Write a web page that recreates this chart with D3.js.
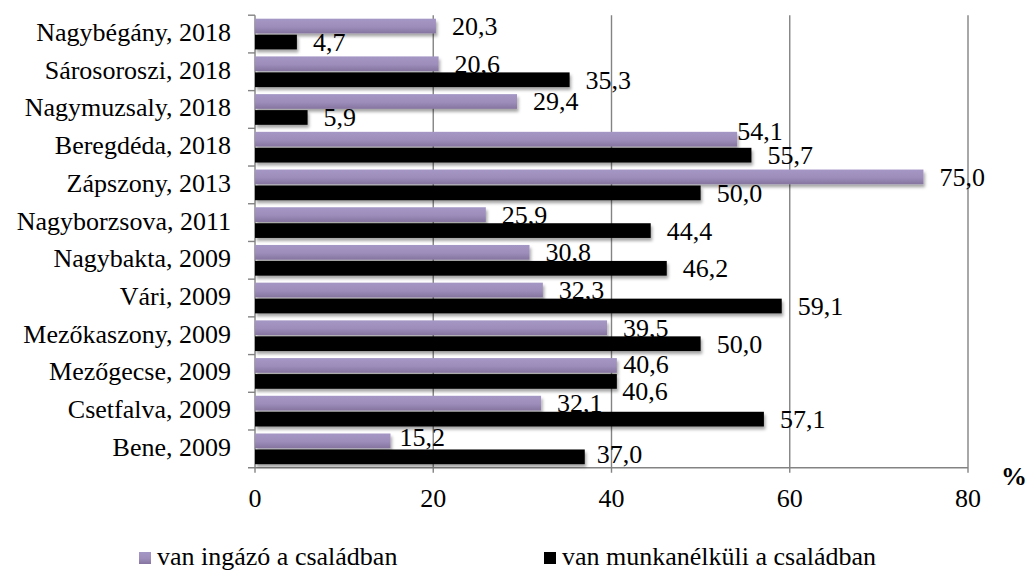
<!DOCTYPE html>
<html><head><meta charset="utf-8">
<script src="https://cdn.jsdelivr.net/npm/d3@7"></script>
<style>
body{margin:0;background:#fff}
svg{display:block}
text{font-family:"Liberation Serif","Times New Roman",serif;fill:#000}
</style>
</head><body>
<svg id="chart" width="1030" height="572"></svg>
<script>
// ---- data ----
const categories = ["Nagybégány, 2018","Sárosoroszi, 2018","Nagymuzsaly, 2018","Beregdéda, 2018","Zápszony, 2013","Nagyborzsova, 2011","Nagybakta, 2009","Vári, 2009","Mezőkaszony, 2009","Mezőgecse, 2009","Csetfalva, 2009","Bene, 2009"];
const commuterValues = [20.3,20.6,29.4,54.1,75.0,25.9,30.8,32.3,39.5,40.6,32.1,15.2];
const unemployedValues = [4.7,35.3,5.9,55.7,50.0,44.4,46.2,59.1,50.0,40.6,57.1,37.0];
const xTickValues = [0,20,40,60,80];
const seriesNames = ["van ingázó a családban","van munkanélküli a családban"];
const unitLabel = "%";

// manual label nudges from the original, kept apart from the data
const commuterNudge = {3:[-16,-8],9:[-9.5,-1.5],11:[-7,-4]};
const unemployedNudge = {9:[-10.5,10],11:[-4,-3]};

// ---- layout ----
const FS = 26;
const svg = d3.select("#chart");
const x = d3.scaleLinear().domain([0,80]).range([255,968]);
const y = d3.scaleBand().domain(categories).range([15.2,467.7]);
const sub = d3.scaleBand().domain([0,1]).range([3.5,34.2]).paddingInner(0.08);
const axisCol = "#838383";

const defs = svg.append("defs");
const grad = defs.append("linearGradient").attr("id","pg").attr("x1",0).attr("y1",0).attr("x2",0).attr("y2",1);
grad.append("stop").attr("offset","0%").attr("stop-color","#a597c5");
grad.append("stop").attr("offset","55%").attr("stop-color","#9d8dbb");
grad.append("stop").attr("offset","100%").attr("stop-color","#84749e");
const f = defs.append("filter").attr("id","sh").attr("x","-5%").attr("y","-30%").attr("width","115%").attr("height","190%");
f.append("feDropShadow").attr("dx",1.5).attr("dy",3).attr("stdDeviation",1.6).attr("flood-color","#000").attr("flood-opacity",0.35);

function txt(g, px, py, s, anchor){
  return g.append("text")
    .attr("x",px).attr("y",py)
    .attr("text-anchor",anchor)
    .style("font-size",FS+"px")
    .text(s);
}
const fmt = v => d3.format(".1f")(v).replace(".",",");

// grid lines
const grid = svg.append("g");
xTickValues.filter(v=>v>0).forEach(v=>{
  grid.append("line").attr("x1",x(v)).attr("x2",x(v)).attr("y1",y.range()[0]).attr("y2",y.range()[1]+5)
    .attr("stroke",axisCol).attr("stroke-width",1.4);
});
// axes
const ax = svg.append("g");
ax.append("line").attr("x1",x(0)).attr("x2",x(0)).attr("y1",y.range()[0]).attr("y2",y.range()[1]+5).attr("stroke",axisCol).attr("stroke-width",1.4);
ax.append("line").attr("x1",x(0)-7).attr("x2",x(80)).attr("y1",y.range()[1]).attr("y2",y.range()[1]).attr("stroke",axisCol).attr("stroke-width",1.4);
categories.forEach(c=>{
  ax.append("line").attr("x1",x(0)-7).attr("x2",x(0)).attr("y1",y(c)).attr("y2",y(c)).attr("stroke",axisCol).attr("stroke-width",1.4);
});

// category labels
const yl = svg.append("g");
categories.forEach(c=>txt(yl, 231, y(c)+y.bandwidth()/2+7, c, "end"));
// x tick labels
const xl = svg.append("g");
xTickValues.forEach(v=>txt(xl, x(v), 507, String(v), "middle"));
txt(xl, 1001, 485, unitLabel, "start").style("font-weight","bold");

// bars series 1
const b1 = svg.append("g");
b1.selectAll("rect").data(commuterValues).join("rect")
  .attr("x",x(0)).attr("y",(d,i)=>y(categories[i])+sub(0))
  .attr("width",d=>x(d)-x(0)).attr("height",sub.bandwidth())
  .attr("fill","url(#pg)").attr("filter","url(#sh)");
const l1 = svg.append("g");
commuterValues.forEach((v,i)=>{
  const n = commuterNudge[i]||[0,0];
  txt(l1, x(v)+16+n[0], y(categories[i])+sub(0)+sub.bandwidth()/2+9+n[1], fmt(v), "start");
});
// bars series 2
const b2 = svg.append("g");
b2.selectAll("rect").data(unemployedValues).join("rect")
  .attr("x",x(0)).attr("y",(d,i)=>y(categories[i])+sub(1))
  .attr("width",d=>x(d)-x(0)).attr("height",sub.bandwidth())
  .attr("fill","#000").attr("filter","url(#sh)");
const l2 = svg.append("g");
unemployedValues.forEach((v,i)=>{
  const n = unemployedNudge[i]||[0,0];
  txt(l2, x(v)+16+n[0], y(categories[i])+sub(1)+sub.bandwidth()/2+9+n[1], fmt(v), "start");
});

// legend
const lg = svg.append("g");
lg.append("rect").attr("x",139).attr("y",552).attr("width",12).attr("height",12).attr("fill","url(#pg)");
txt(lg, 157, 565, seriesNames[0], "start");
lg.append("rect").attr("x",544).attr("y",552).attr("width",12).attr("height",12).attr("fill","#000");
txt(lg, 562, 565, seriesNames[1], "start");
</script>
</body></html>
